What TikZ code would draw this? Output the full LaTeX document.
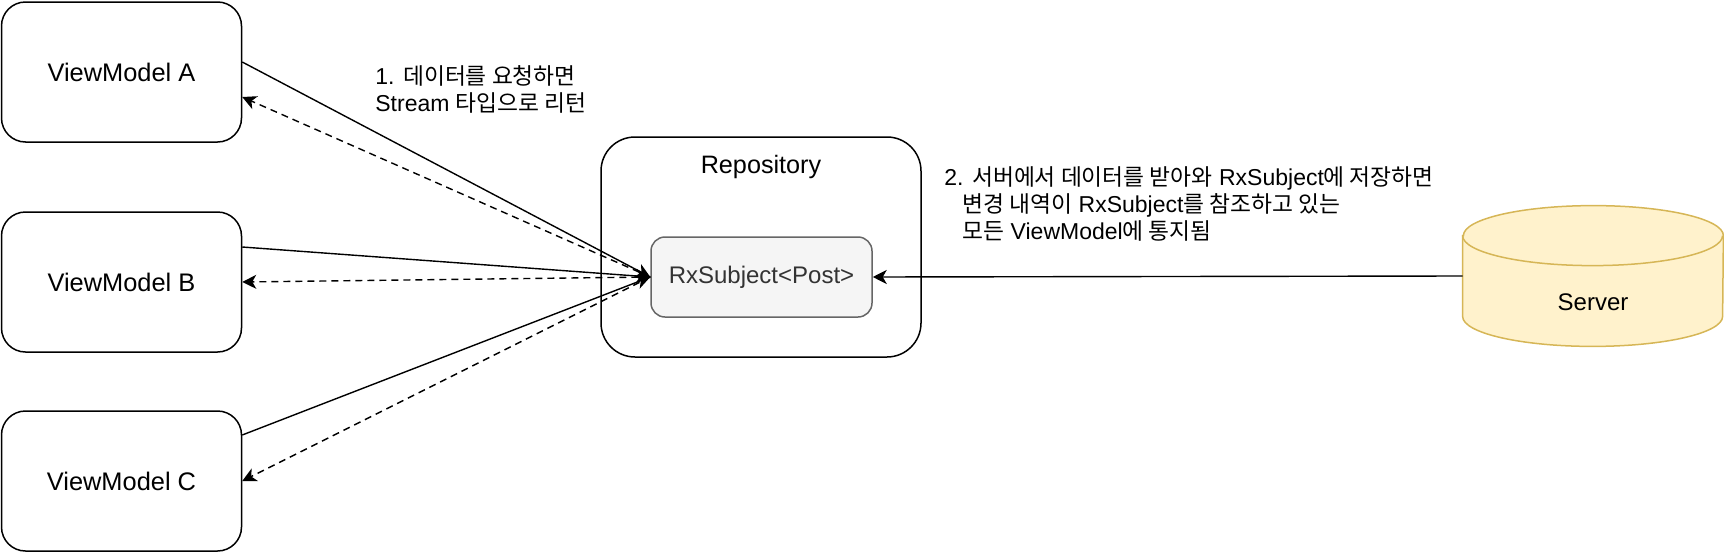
\documentclass[tikz,border=0pt]{standalone}
\usepackage{fontspec}
\setmainfont{Liberation Sans}
\newfontfamily\krfont{Noto Sans CJK KR}[Scale=0.99]
\newcommand{\kr}[1]{{\krfont #1}}
\usetikzlibrary{arrows.meta,positioning,calc,backgrounds}
\definecolor{serverfill}{HTML}{FFF2CC}
\definecolor{serverline}{HTML}{D6B656}
\definecolor{subjectfill}{HTML}{F5F5F5}
\definecolor{subjectline}{HTML}{666666}
\definecolor{subjecttext}{HTML}{333333}

\begin{document}
\begin{tikzpicture}[x=0.5pt, y=-0.5pt, >={Stealth[length=7pt,width=7pt,inset=2pt]},
    vmbox/.style={draw, line width=0.75pt, rounded corners=12pt, minimum width=120pt, minimum height=70pt, font=\fontsize{12.7}{15}\selectfont},
    note/.style={align=left, inner sep=0pt, font=\fontsize{11.5}{13.5}\selectfont},
    reqline/.style={line width=0.7pt},
    retline/.style={line width=0.7pt, dash pattern=on 3.5pt off 2.5pt}]
    \useasboundingbox (0,0) rectangle (1724,552);

    % ViewModels
    \node[vmbox] (vmA) at (121.5,72) {ViewModel A};
    \node[vmbox] (vmB) at (121.5,282) {ViewModel B};
    \node[vmbox] (vmC) at (121.5,481) {ViewModel C};

    % Repository with the subject inside
    \node[draw, line width=0.75pt, rounded corners=17pt, minimum width=160pt, minimum height=110pt] (repo) at (761,247) {};
    \node[font=\fontsize{12.6}{15}\selectfont] (repoTitle) at (761,167) {Repository};
    \node[draw=subjectline, fill=subjectfill, text=subjecttext, line width=0.75pt, rounded corners=7pt,
          minimum width=110.5pt, minimum height=40pt, font=\fontsize{12}{15}\selectfont] (rx) at (761.5,277) {RxSubject<Post>};

    % Server (cylinder)
    \node[minimum width=130pt, minimum height=70pt, inner sep=0pt,
          label={[font=\fontsize{12}{15}\selectfont, yshift=-13pt]center:Server}] (server) at (1593,276) {};
    \begin{scope}[on background layer]
        \filldraw[fill=serverfill, draw=serverline, line width=0.75pt]
            ([yshift=-15pt]server.north west) -- ([yshift=15pt]server.south west)
            arc[start angle=180, end angle=360, x radius=65pt, y radius=15pt]
            -- ([yshift=-15pt]server.north east)
            arc[start angle=0, end angle=180, x radius=65pt, y radius=15pt] -- cycle;
        \draw[serverline, line width=0.75pt] ([yshift=-15pt]server.north west)
            arc[start angle=180, end angle=360, x radius=65pt, y radius=15pt];
    \end{scope}

    % Requests into the subject
    \draw[retline,->] (rx.west) -- ([yshift=-12.5pt]vmA.east);
    \draw[retline,->] (rx.west) -- (vmB.east);
    \draw[retline,->] (rx.west) -- (vmC.east);
    \draw[reqline,->] ([yshift=5pt]vmA.east) -- (rx.west);
    \draw[reqline,->] ([yshift=17.5pt]vmB.east) -- (rx.west);
    \draw[reqline,->] ([yshift=23pt]vmC.east) -- (rx.west);

    % Server pushes data
    \draw[reqline,->] (server.west) -- (rx.east);

    % Notes
    \node[note, anchor=west] (askNote) at (375,89) {1. \kr{데이터를 요청하면}\\Stream \kr{타입으로 리턴}};
    \node[note, anchor=west] (pushNote) at (944,204) {2. \kr{서버에서 데이터를 받아와} RxSubject\kr{에 저장하면}\\
        \hspace*{9pt}\kr{변경 내역이} RxSubject\kr{를 참조하고 있는}\\
        \hspace*{9pt}\kr{모든} ViewModel\kr{에 통지됨}};
\end{tikzpicture}
\end{document}
